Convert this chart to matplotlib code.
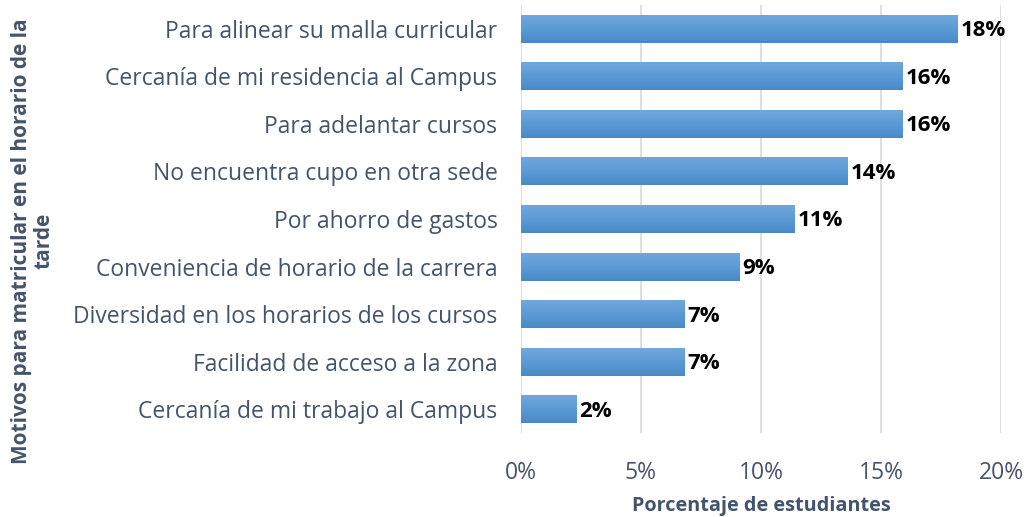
import matplotlib.pyplot as plt
import numpy as np
from matplotlib.ticker import FuncFormatter

# ── Data ────────────────────────────────────────────────────────────────
categories = [
    "Para alinear su malla curricular",
    "Cercanía de mi residencia al Campus",
    "Para adelantar cursos",
    "No encuentra cupo en otra sede",
    "Por ahorro de gastos",
    "Conveniencia de horario de la carrera",
    "Diversidad en los horarios de los cursos",
    "Facilidad de acceso a la zona",
    "Cercanía de mi trabajo al Campus",
]
values = [18.2, 15.9, 15.9, 13.6, 11.4, 9.1, 6.8, 6.8, 2.3]
labels = ["18%", "16%", "16%", "14%", "11%", "9%", "7%", "7%", "2%"]
xticks = [0, 5, 10, 15, 20]

TEXT_COLOR = "#44546A"
GRID_COLOR = "#D9D9D9"
FONT = "Open Sans"

plt.rcParams["font.family"] = [FONT, "DejaVu Sans"]

fig = plt.figure(figsize=(10.26, 5.17), dpi=100)
ax = fig.add_axes([0.5078, 0.1625, 0.4678, 0.8278])

y = np.arange(len(categories))
bars = ax.barh(y, values, height=0.59, color="#5B9BD5", zorder=2)

# vertical gradient inside each bar (light top, darker bottom)
grad = np.linspace(0, 1, 64).reshape(-1, 1)
cmap = plt.matplotlib.colors.LinearSegmentedColormap.from_list(
    "barg", ["#73A8DE", "#5B9BD5", "#4A89C8"])
for b in bars:
    x0, y0 = b.get_x(), b.get_y()
    w, h = b.get_width(), b.get_height()
    im = ax.imshow(grad, cmap=cmap, aspect="auto", zorder=3,
                   extent=(x0, x0 + w, y0 + h, y0), origin="upper")
    im.set_clip_path(b)

for yi, v, lab in zip(y, values, labels):
    ax.text(v + 0.12, yi + 0.04, lab, ha="left", va="center",
            fontsize=16, fontweight="bold", color="black", zorder=4)

ax.set_xlim(0, 20)
ax.set_ylim(len(categories) - 0.5, -0.5)
ax.set_xticks(xticks)
ax.xaxis.set_major_formatter(FuncFormatter(lambda v, _: f"{v:.0f}%"))
ax.set_yticks(y)
ax.set_yticklabels(categories)
ax.tick_params(axis="both", length=0, labelsize=16.5, colors=TEXT_COLOR)
ax.tick_params(axis="y", pad=17)
ax.tick_params(axis="x", pad=20)
ax.grid(axis="x", color=GRID_COLOR, linewidth=1.2, zorder=0)
for s in ax.spines.values():
    s.set_visible(False)

ax.set_xlabel("Porcentaje de estudiantes", fontsize=14.3, fontweight="bold",
              color=TEXT_COLOR, labelpad=8)
fig.text(0.032, 0.534, "Motivos para matricular en el horario de la\ntarde",
         rotation=90, ha="center", va="center", multialignment="center",
         fontsize=15, fontweight="bold", color=TEXT_COLOR, linespacing=1.05)

fig.savefig("out.png", dpi=100)
